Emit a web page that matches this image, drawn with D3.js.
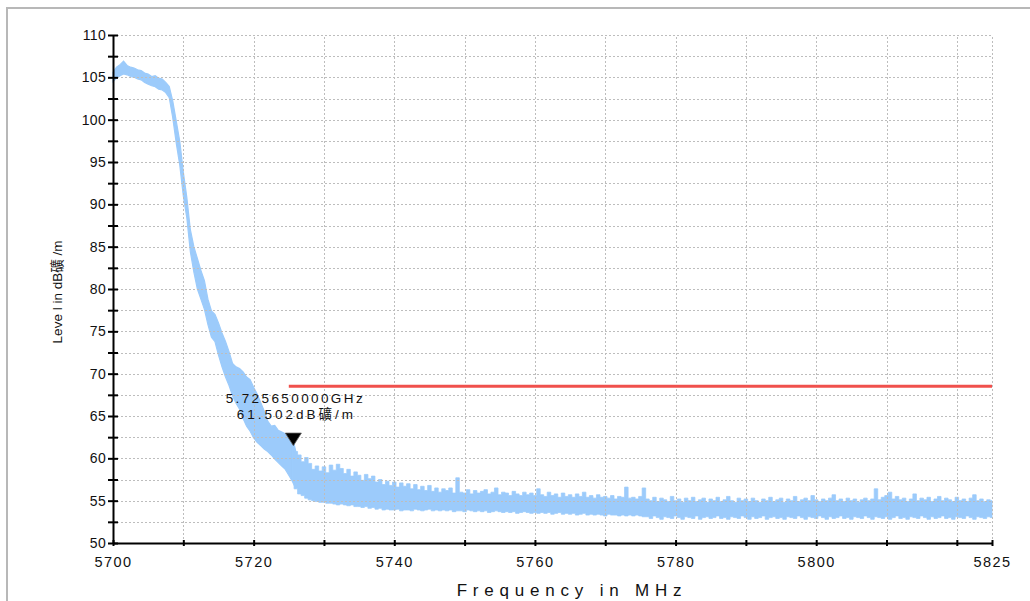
<!DOCTYPE html>
<html><head><meta charset="utf-8">
<script src="https://cdn.jsdelivr.net/npm/d3@7"></script>
<style>
html,body{margin:0;padding:0;background:#fff;}
svg{display:block;font-family:"Liberation Sans",Arial,"Noto Sans CJK SC",sans-serif;}
</style></head><body>
<svg id="chart" width="1030" height="601"></svg>
<script>
// ---- data ----
const sweepStart = 5700;   // MHz
const sweepStep = 0.5;     // MHz per sample
const levelMax = [
105.6,106.2,106.5,106.9,106.4,106.2,106.1,105.9,105.8,105.5,105.4,105.1,105.2,104.9,104.8,104.4,103.9,
102.2,99.8,97.4,93.8,90.8,87.0,85.0,83.6,82.2,81.0,78.8,77.4,77.0,76.0,74.8,73.8,72.6,71.2,70.8,70.6,70.2,69.6,69.3,
68.4,67.6,66.6,65.6,64.4,63.8,63.9,63.3,63.1,62.9,62.4,62.6,60.8,60.4,59.6,60.1,59.4,58.7,59.1,58.5,
59.0,58.3,59.2,58.6,59.3,58.8,58.2,58.7,57.9,58.4,58.0,57.4,58.1,57.6,57.9,57.2,57.5,56.9,57.3,56.8,
57.2,56.6,57.1,56.7,57.0,56.4,56.9,56.3,56.7,56.2,56.8,56.1,56.5,56.0,56.4,56.2,56.5,55.9,57.7,56.0,
55.9,56.3,55.8,56.2,55.9,56.1,56.3,55.8,56.0,56.5,55.7,56.0,55.9,55.6,56.1,55.8,55.6,56.0,55.7,55.9,
55.6,56.4,55.7,55.5,56.0,55.6,55.8,55.4,55.9,55.5,55.7,55.4,55.8,55.5,56.0,55.4,55.6,55.3,55.7,55.4,
55.5,55.3,55.6,55.2,55.5,55.4,56.6,55.3,55.4,55.2,55.5,56.5,
55.2,55.0,55.4,54.9,55.3,55.1,54.9,55.5,55.0,55.2,
54.8,55.3,55.0,55.4,54.9,55.1,55.3,54.8,55.2,55.0,
55.4,54.9,55.1,55.5,55.0,54.8,55.3,55.0,55.2,54.9,
55.3,55.0,54.8,55.2,55.0,55.4,54.9,55.1,55.3,54.8,
55.2,55.0,55.5,54.9,55.1,55.3,55.0,55.6,55.1,54.9,
55.2,55.0,55.3,55.7,55.0,55.2,54.9,55.3,55.0,55.2,
54.8,55.1,55.3,55.0,55.2,56.4,55.1,55.4,55.6,56.0,
55.2,55.5,55.1,55.3,54.9,55.2,55.8,55.0,55.3,55.1,
55.4,54.9,55.2,55.5,55.0,55.3,55.1,54.9,55.4,55.0,
55.2,54.9,55.3,55.7,55.0,55.2,54.9,55.1,55.0
];
const levelMin = [
104.5,104.9,105.2,105.4,105.3,105.1,105.0,104.8,104.7,104.4,104.2,104.0,103.9,103.6,103.5,103.2,102.6,
100.2,97.2,94.6,91.0,88.4,84.4,82.0,80.0,78.8,77.6,75.8,74.3,73.8,72.2,70.8,69.6,68.6,67.4,66.5,65.8,64.7,63.8,63.2,
62.4,61.9,61.5,61.1,60.8,60.4,59.9,59.5,59.1,58.7,58.0,57.3,56.4,55.8,55.6,55.3,55.1,55.0,54.9,54.8,
54.8,54.7,54.7,54.6,54.5,54.6,54.5,54.4,54.5,54.3,54.3,54.2,54.3,54.1,54.2,54.0,54.1,53.9,54.0,53.9,
53.9,54.0,53.8,53.9,53.9,53.8,54.0,53.9,53.8,53.9,54.0,53.8,53.9,53.8,53.9,53.8,53.9,53.7,53.8,53.8,
53.7,53.9,53.8,53.7,53.8,53.7,53.8,53.6,53.7,53.8,53.7,53.6,53.7,53.6,53.7,53.5,53.6,53.7,53.6,53.5,
53.6,53.5,53.6,53.5,53.6,53.4,53.5,53.6,53.4,53.5,53.4,53.5,53.3,53.4,53.5,53.3,53.4,53.3,53.4,53.3,
53.2,53.4,53.3,53.3,53.2,53.3,53.2,53.3,53.2,53.3,53.2,53.1,
53.1,52.9,53.2,53.0,52.8,53.1,53.0,52.9,53.2,53.0,
52.8,53.1,53.0,52.9,53.2,52.8,53.0,53.1,52.9,53.0,
53.2,52.9,53.0,52.8,53.1,53.0,52.9,53.2,53.0,52.8,
53.1,52.9,53.0,53.2,52.8,53.0,53.1,52.9,53.0,52.8,
53.1,53.0,52.9,53.2,53.0,52.8,53.1,53.0,52.9,53.2,
53.0,52.8,53.1,52.9,53.0,53.2,52.9,53.0,52.8,53.1,
53.0,52.9,53.2,53.0,52.8,53.1,53.0,52.9,53.1,52.8,
53.0,53.2,52.9,53.0,52.8,53.1,53.0,52.9,53.2,53.0,
52.8,53.1,52.9,53.0,53.2,52.9,53.0,52.8,53.1,53.0,
52.9,53.2,53.0,52.8,53.1,53.0,52.9,53.1,53.0
];
const xTicks = [5700,5710,5720,5730,5740,5750,5760,5770,5780,5790,5800,5810,5820,5825];
const xTickLabels = [5700,5720,5740,5760,5780,5800,5825];
const yTicks = [50,52.5,55,57.5,60,62.5,65,67.5,70,72.5,75,77.5,80,82.5,85,87.5,90,92.5,95,97.5,100,102.5,105,107.5,110];
const yTickLabels = [50,55,60,65,70,75,80,85,90,95,100,105,110];
const limitFreqs = [5725, 5825];
const limitLevels = [68.5, 68.5];
const markerFreq = 5725.65;
const markerLevel = 61.502;
const markerText = ["5.725650000GHz", "61.502dB礦/m"];
const xTitle = "Frequency in MHz";
const yTitle = "Leve l in dB礦 /m";
const noiseFloorStart = 5726; // where the trace flattens into noise

// ---- drawing ----
const svg = d3.select("#chart");
const x = d3.scaleLinear().domain([5700, 5825]).range([113, 992]);
const y = d3.scaleLinear().domain([50, 110]).range([543, 35]);

svg.append("rect").attr("x", 7).attr("y", 8).attr("width", 1030).attr("height", 620)
  .attr("fill", "#fff").attr("stroke", "#b8b8b8").attr("stroke-width", 2);

const samples = levelMax.map((v, i) => ({f: sweepStart + i * sweepStep, hi: v, lo: levelMin[i]}));
const traceColor = "#9ccbfb";

// trace envelope: slope drawn linearly, noise floor drawn as sample-and-hold steps
const areaLin = d3.area().x(d => x(d.f)).y0(d => y(d.lo)).y1(d => y(d.hi)).curve(d3.curveLinear);
const areaStep = d3.area().x(d => x(d.f)).y0(d => y(d.lo)).y1(d => y(d.hi)).curve(d3.curveStep);
svg.append("path").datum(samples.filter(d => d.f <= noiseFloorStart)).attr("d", areaLin)
  .attr("fill", traceColor).attr("stroke", traceColor).attr("stroke-width", 1.2);
svg.append("path").datum(samples.filter(d => d.f >= noiseFloorStart - 0.5)).attr("d", areaStep)
  .attr("fill", traceColor).attr("stroke", traceColor).attr("stroke-width", 0.8);

// grid
const grid = svg.append("g").attr("stroke", "#bdbdbd").attr("stroke-width", 1).attr("stroke-dasharray", "2,2");
grid.selectAll("line.h").data(yTicks.filter(v => v > 50)).join("line")
  .attr("x1", x(5700)).attr("x2", x(5825)).attr("y1", d => Math.round(y(d)) + 0.5).attr("y2", d => Math.round(y(d)) + 0.5);
grid.selectAll("line.v").data(xTicks.filter(v => v > 5700)).join("line")
  .attr("y1", y(50)).attr("y2", y(110)).attr("x1", d => Math.round(x(d)) + 0.5).attr("x2", d => Math.round(x(d)) + 0.5);

// limit line
svg.append("path").datum(limitFreqs.map((f, i) => [f, limitLevels[i]]))
  .attr("d", d3.line().x(d => x(d[0])).y(d => y(d[1])))
  .attr("stroke", "#f0504c").attr("stroke-width", 3).attr("fill", "none");

// axes
const yAxis = d3.axisLeft(y).tickValues(yTicks).tickSizeInner(5).tickSizeOuter(0).tickPadding(2)
  .tickFormat(d => yTickLabels.includes(d) ? String(d) : "");
const gy = svg.append("g").attr("transform", `translate(${x(5700)},0)`).call(yAxis);
const xAxis = d3.axisBottom(x).tickValues(xTicks).tickSizeInner(3).tickSizeOuter(0).tickPadding(11)
  .tickFormat(d => xTickLabels.includes(d) ? String(d) : "");
const gx = svg.append("g").attr("transform", `translate(0,${y(50)})`).call(xAxis);

gy.select(".domain").attr("stroke", "#000").attr("stroke-width", 2);
gy.selectAll(".tick line").attr("x1", 5).attr("stroke", "#000").attr("stroke-width", 2);
gy.selectAll(".tick text").attr("font-size", 14).attr("fill", "#111")
  .attr("font-family", '"Liberation Sans",Arial,sans-serif').attr("letter-spacing", 0.3);
gx.select(".domain").attr("stroke", "#000").attr("stroke-width", 2);
gx.selectAll(".tick line").attr("y1", -3).attr("stroke", "#000").attr("stroke-width", 2);
gx.selectAll(".tick text").attr("font-size", 14.5).attr("fill", "#111")
  .attr("font-family", '"Liberation Sans",Arial,sans-serif').attr("letter-spacing", 1.5);

// axis titles
svg.append("text").attr("x", 572).attr("y", 596).attr("text-anchor", "middle")
  .attr("font-size", 17).attr("letter-spacing", 5.8).attr("fill", "#111").text(xTitle);
svg.append("text").attr("transform", "translate(62,292) rotate(-90)").attr("text-anchor", "middle")
  .attr("font-size", 13.5).attr("fill", "#111").text(yTitle);

// marker
const mx = x(markerFreq), my = y(markerLevel);
svg.append("path").attr("d", `M${mx},${my} L${mx - 8},${my - 12.5} L${mx + 8},${my - 12.5} Z`)
  .attr("fill", "#000").attr("stroke", "#555").attr("stroke-width", 0.8);
svg.append("text").attr("x", mx + 2).attr("y", my - 43).attr("text-anchor", "middle")
  .attr("font-size", 13.5).attr("letter-spacing", 2.4).attr("fill", "#111").text(markerText[0]);
svg.append("text").attr("x", mx + 3).attr("y", my - 27).attr("text-anchor", "middle")
  .attr("font-size", 13.5).attr("letter-spacing", 3).attr("fill", "#111").text(markerText[1]);
</script>
</body></html>
